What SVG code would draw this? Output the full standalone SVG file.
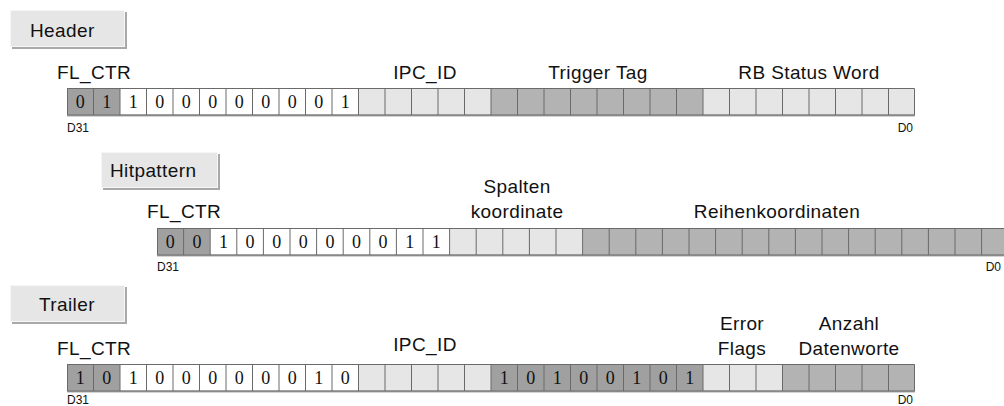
<svg xmlns="http://www.w3.org/2000/svg" width="1004" height="406" viewBox="0 0 1004 406">
<style>
text{font-family:"Liberation Sans",Arial,sans-serif;fill:#111}
.lbl{font-size:19px;letter-spacing:0.4px}
.ctr{text-anchor:middle}
.small{font-size:12px}
.dig text{font-family:"Liberation Serif","Times New Roman",serif;font-size:18px;text-anchor:middle}
.btn{fill:#e6e6e6}
.sh{fill:#a9a9a9}
.hl{fill:#f6f6f6}
.dk{fill:#a0a0a0}
.md{fill:#b3b3b3}
.lt{fill:#e6e6e6}
.wh{fill:#ffffff}
.grid{fill:none;stroke:#6a6a6a;stroke-width:1}
.bot{stroke:#a8a8a8;stroke-width:2}
</style>

<!-- Header -->
<g id="btn-header">
<rect class="sh" x="12" y="12" width="115" height="37"/>
<rect class="hl" x="10" y="10" width="115" height="37"/>
<rect class="btn" x="11" y="11" width="113" height="35"/>
<text class="lbl" x="30" y="37">Header</text>
</g>
<g id="row-header">
<text class="lbl" x="57" y="79">FL_CTR</text>
<text class="lbl ctr" x="425" y="79">IPC_ID</text>
<text class="lbl ctr" x="598" y="79">Trigger Tag</text>
<text class="lbl ctr" x="809" y="79">RB Status Word</text>
<rect class="dk" x="67" y="88" width="53" height="27"/>
<rect class="wh" x="120" y="88" width="238.5" height="27"/>
<rect class="lt" x="358.5" y="88" width="132.5" height="27"/>
<rect class="md" x="491" y="88" width="212" height="27"/>
<rect class="lt" x="703" y="88" width="212" height="27"/>
<line class="bot" x1="67" y1="115.5" x2="915" y2="115.5"/>
<path class="grid" d="M67.5,88.5H914.5V115H67.5Z M93.5,88V115 M120,88V115 M146.5,88V115 M173,88V115 M199.5,88V115 M226,88V115 M252.5,88V115 M279,88V115 M305.5,88V115 M332,88V115 M358.5,88V115 M385,88V115 M411.5,88V115 M438,88V115 M464.5,88V115 M491,88V115 M517.5,88V115 M544,88V115 M570.5,88V115 M597,88V115 M623.5,88V115 M650,88V115 M676.5,88V115 M703,88V115 M729.5,88V115 M756,88V115 M782.5,88V115 M809,88V115 M835.5,88V115 M862,88V115 M888.5,88V115"/>
<g class="dig">
<text x="80.25" y="108">0</text><text x="106.75" y="108">1</text>
<text x="133.25" y="108">1</text><text x="159.75" y="108">0</text><text x="186.25" y="108">0</text><text x="212.75" y="108">0</text><text x="239.25" y="108">0</text><text x="265.75" y="108">0</text><text x="292.25" y="108">0</text><text x="318.75" y="108">0</text><text x="345.25" y="108">1</text>
</g>
<text class="small" x="67" y="132">D31</text>
<text class="small" x="913" y="132" text-anchor="end">D0</text>
</g>

<!-- Hitpattern -->
<g id="btn-hitpattern">
<rect class="sh" x="103" y="154" width="117" height="36"/>
<rect class="hl" x="101" y="152" width="117" height="36"/>
<rect class="btn" x="102" y="153" width="115" height="34"/>
<text class="lbl" x="110" y="177">Hitpattern</text>
</g>
<g id="row-hitpattern">
<text class="lbl" x="147" y="218">FL_CTR</text>
<text class="lbl ctr" x="517" y="193">Spalten</text>
<text class="lbl ctr" x="517" y="218">koordinate</text>
<text class="lbl ctr" x="777" y="218">Reihenkoordinaten</text>
<rect class="dk" x="157" y="228" width="53.2" height="27"/>
<rect class="wh" x="210.2" y="228" width="239.4" height="27"/>
<rect class="lt" x="449.6" y="228" width="133" height="27"/>
<rect class="md" x="582.6" y="228" width="425.6" height="27"/>
<line class="bot" x1="157" y1="255.5" x2="1008" y2="255.5"/>
<path class="grid" d="M1008.2,228.5H157.5V255H1008.2 M183.6,228V255 M210.2,228V255 M236.8,228V255 M263.4,228V255 M290,228V255 M316.6,228V255 M343.2,228V255 M369.8,228V255 M396.4,228V255 M423,228V255 M449.6,228V255 M476.2,228V255 M502.8,228V255 M529.4,228V255 M556,228V255 M582.6,228V255 M609.2,228V255 M635.8,228V255 M662.4,228V255 M689,228V255 M715.6,228V255 M742.2,228V255 M768.8,228V255 M795.4,228V255 M822,228V255 M848.6,228V255 M875.2,228V255 M901.8,228V255 M928.4,228V255 M955,228V255 M981.6,228V255"/>
<g class="dig">
<text x="170.3" y="248">0</text><text x="196.9" y="248">0</text>
<text x="223.5" y="248">1</text><text x="250.1" y="248">0</text><text x="276.7" y="248">0</text><text x="303.3" y="248">0</text><text x="329.9" y="248">0</text><text x="356.5" y="248">0</text><text x="383.1" y="248">0</text><text x="409.7" y="248">1</text><text x="436.3" y="248">1</text>
</g>
<text class="small" x="157" y="271">D31</text>
<text class="small" x="1001" y="271" text-anchor="end">D0</text>
</g>

<!-- Trailer -->
<g id="btn-trailer">
<rect class="sh" x="12" y="287" width="115" height="37"/>
<rect class="hl" x="10" y="285" width="115" height="37"/>
<rect class="btn" x="11" y="286" width="113" height="35"/>
<text class="lbl" x="39" y="311">Trailer</text>
</g>
<g id="row-trailer">
<text class="lbl" x="57" y="355">FL_CTR</text>
<text class="lbl ctr" x="425" y="351">IPC_ID</text>
<text class="lbl ctr" x="742" y="330">Error</text>
<text class="lbl ctr" x="742" y="355">Flags</text>
<text class="lbl ctr" x="849" y="330">Anzahl</text>
<text class="lbl ctr" x="849" y="355">Datenworte</text>
<rect class="dk" x="67" y="364" width="53" height="27"/>
<rect class="wh" x="120" y="364" width="238.5" height="27"/>
<rect class="lt" x="358.5" y="364" width="132.5" height="27"/>
<rect class="dk" x="491" y="364" width="212" height="27"/>
<rect class="lt" x="703" y="364" width="79.5" height="27"/>
<rect class="md" x="782.5" y="364" width="132.5" height="27"/>
<line class="bot" x1="67" y1="391.5" x2="915" y2="391.5"/>
<path class="grid" d="M67.5,364.5H914.5V391H67.5Z M93.5,364V391 M120,364V391 M146.5,364V391 M173,364V391 M199.5,364V391 M226,364V391 M252.5,364V391 M279,364V391 M305.5,364V391 M332,364V391 M358.5,364V391 M385,364V391 M411.5,364V391 M438,364V391 M464.5,364V391 M491,364V391 M517.5,364V391 M544,364V391 M570.5,364V391 M597,364V391 M623.5,364V391 M650,364V391 M676.5,364V391 M703,364V391 M729.5,364V391 M756,364V391 M782.5,364V391 M809,364V391 M835.5,364V391 M862,364V391 M888.5,364V391"/>
<g class="dig">
<text x="80.25" y="384">1</text><text x="106.75" y="384">0</text>
<text x="133.25" y="384">1</text><text x="159.75" y="384">0</text><text x="186.25" y="384">0</text><text x="212.75" y="384">0</text><text x="239.25" y="384">0</text><text x="265.75" y="384">0</text><text x="292.25" y="384">0</text><text x="318.75" y="384">1</text><text x="345.25" y="384">0</text>
<text x="504.25" y="384">1</text><text x="530.75" y="384">0</text><text x="557.25" y="384">1</text><text x="583.75" y="384">0</text><text x="610.25" y="384">0</text><text x="636.75" y="384">1</text><text x="663.25" y="384">0</text><text x="689.75" y="384">1</text>
</g>
<text class="small" x="67" y="404">D31</text>
<text class="small" x="913" y="404" text-anchor="end">D0</text>
</g>
</svg>
